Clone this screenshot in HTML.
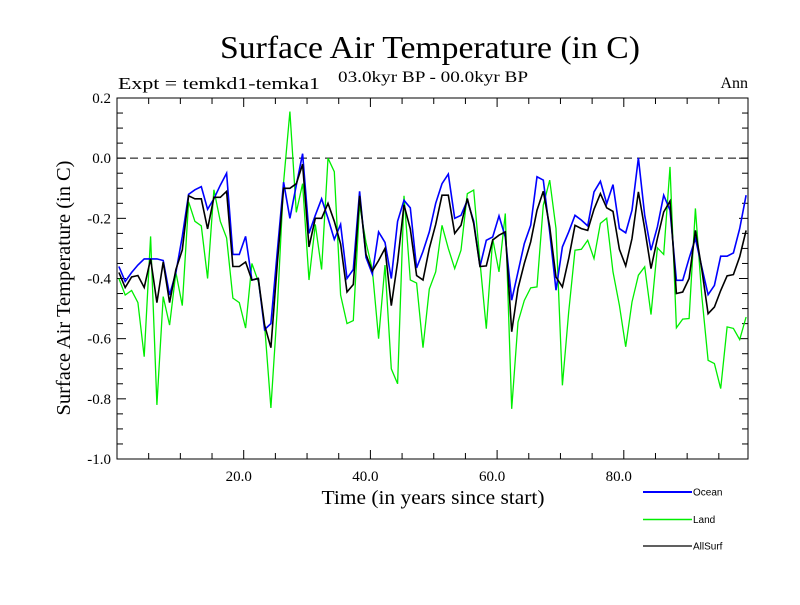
<!DOCTYPE html>
<html><head><meta charset="utf-8"><style>
body{margin:0;background:#fff}
svg text{font-family:"Liberation Serif",serif}
</style></head><body>
<svg id="chart" width="800" height="600" xmlns="http://www.w3.org/2000/svg">
<rect width="800" height="600" fill="#fff"/>
<text x="430" y="58" font-size="32" text-anchor="middle" textLength="420" lengthAdjust="spacingAndGlyphs">Surface Air Temperature (in C)</text>
<text x="118" y="89" font-size="17" textLength="202" lengthAdjust="spacingAndGlyphs">Expt = temkd1-temka1</text>
<text x="433" y="82" font-size="16" text-anchor="middle" textLength="190" lengthAdjust="spacingAndGlyphs">03.0kyr BP - 00.0kyr BP</text>
<text x="748" y="88" font-size="16" text-anchor="end">Ann</text>
<text x="0" y="0" font-size="20" text-anchor="middle" transform="translate(70,288) rotate(-90)" textLength="255" lengthAdjust="spacingAndGlyphs">Surface Air Temperature (in C)</text>
<text x="433" y="504" font-size="20" text-anchor="middle" textLength="223" lengthAdjust="spacingAndGlyphs">Time (in years since start)</text>
<g id="axes"></g>
<g id="series"></g>
<g id="legend"></g>
</svg>
<script>
const years = Array.from({length:100},(_,k)=>k+0.3);
const ocean = [-0.36,-0.41,-0.38,-0.355,-0.335,-0.335,-0.335,-0.34,-0.455,-0.38,-0.26,-0.12,-0.105,-0.095,-0.17,-0.135,-0.09,-0.05,-0.32,-0.32,-0.26,-0.405,-0.40,-0.57,-0.55,
-0.31,-0.08,-0.20,-0.09,0.015,-0.25,-0.19,-0.135,-0.20,-0.27,-0.22,-0.40,-0.37,-0.11,-0.33,-0.385,-0.245,-0.28,-0.40,-0.21,-0.14,-0.165,-0.365,-0.31,-0.245,
-0.15,-0.085,-0.053,-0.20,-0.19,-0.14,-0.21,-0.36,-0.273,-0.262,-0.192,-0.262,-0.472,-0.378,-0.284,-0.223,-0.062,-0.073,-0.245,-0.439,-0.295,-0.245,-0.19,-0.206,-0.225,
-0.112,-0.077,-0.151,-0.088,-0.234,-0.248,-0.173,0.001,-0.19,-0.306,-0.228,-0.123,-0.173,-0.406,-0.406,-0.333,-0.267,-0.361,-0.454,-0.423,-0.326,-0.326,-0.315,-0.234,-0.123];
const land = [-0.40,-0.455,-0.44,-0.48,-0.66,-0.26,-0.82,-0.46,-0.555,-0.38,-0.49,-0.145,-0.21,-0.225,-0.40,-0.105,-0.21,-0.265,-0.465,-0.48,-0.565,-0.35,-0.41,-0.555,-0.83,
-0.5,-0.08,0.155,-0.18,-0.085,-0.405,-0.22,-0.37,0.0,-0.045,-0.455,-0.55,-0.54,-0.155,-0.28,-0.37,-0.60,-0.355,-0.70,-0.75,-0.125,-0.405,-0.415,-0.63,-0.435,
-0.378,-0.223,-0.3,-0.367,-0.306,-0.118,-0.106,-0.345,-0.567,-0.268,-0.378,-0.184,-0.833,-0.545,-0.473,-0.431,-0.428,-0.156,-0.073,-0.234,-0.755,-0.511,-0.306,-0.303,-0.273,
-0.334,-0.217,-0.2,-0.378,-0.489,-0.627,-0.478,-0.389,-0.361,-0.52,-0.298,-0.32,-0.029,-0.564,-0.535,-0.533,-0.167,-0.455,-0.672,-0.683,-0.766,-0.561,-0.566,-0.603,-0.528];
const allsurf = [-0.38,-0.43,-0.395,-0.39,-0.43,-0.335,-0.48,-0.345,-0.48,-0.37,-0.305,-0.125,-0.135,-0.135,-0.235,-0.13,-0.13,-0.11,-0.36,-0.36,-0.345,-0.405,-0.40,-0.555,-0.63,
-0.35,-0.10,-0.10,-0.085,-0.02,-0.295,-0.20,-0.20,-0.15,-0.21,-0.285,-0.445,-0.42,-0.125,-0.32,-0.375,-0.34,-0.30,-0.49,-0.345,-0.155,-0.235,-0.39,-0.405,-0.30,
-0.22,-0.123,-0.123,-0.25,-0.223,-0.134,-0.217,-0.36,-0.358,-0.272,-0.256,-0.245,-0.577,-0.433,-0.35,-0.278,-0.173,-0.11,-0.228,-0.395,-0.428,-0.334,-0.223,-0.234,-0.24,
-0.17,-0.118,-0.165,-0.177,-0.303,-0.358,-0.267,-0.112,-0.234,-0.367,-0.267,-0.179,-0.143,-0.45,-0.445,-0.4,-0.24,-0.367,-0.517,-0.495,-0.44,-0.391,-0.387,-0.328,-0.24];
const yTicks = [0.2,0.0,-0.2,-0.4,-0.6,-0.8,-1.0];
const yTickLabels = ["0.2","0.0","-0.2","-0.4","-0.6","-0.8","-1.0"];
const xTicks = [20,40,60,80];
const xTickLabels = ["20.0","40.0","60.0","80.0"];

const L=117,R=748,T=98,B=459;
const X0=0,X1=(R-L)/6.335;
const xs=v=>L+(v-X0)/(X1-X0)*(R-L);
const ys=v=>T+(0.2-v)/1.2*(B-T);
const NS="http://www.w3.org/2000/svg";
function mk(tag,attrs,parent){const e=document.createElementNS(NS,tag);for(const k in attrs)e.setAttribute(k,attrs[k]);parent.appendChild(e);return e;}
const axes=document.getElementById('axes');
const frame=mk('rect',{x:L,y:T,width:R-L,height:B-T,fill:'none',stroke:'#000','stroke-width':1},axes);


const zero=mk('line',{x1:L,x2:R,y1:ys(0),y2:ys(0),stroke:'#000','stroke-dasharray':'8,5','stroke-width':1},axes);


for(let v=-1.0;v<=0.2001;v+=0.05){
  const y=ys(v);const major=Math.abs(Math.round(v*100)%20)<1;
  const len=major?9:6;
  mk('line',{x1:L,x2:L+len,y1:y,y2:y,stroke:'#000'},axes);
  mk('line',{x1:R,x2:R-len,y1:y,y2:y,stroke:'#000'},axes);
}
yTicks.forEach((v,i)=>{
  const t=mk('text',{x:L-6,y:ys(v)+5,'font-size':15,'text-anchor':'end'},axes);
  t.textContent=yTickLabels[i];
  
  
});
for(let v=5;v<X1;v+=5){
  const x=xs(v);const major=v%20===0;const len=major?9:6;
  mk('line',{x1:x,x2:x,y1:B,y2:B-len,stroke:'#000'},axes);
  mk('line',{x1:x,x2:x,y1:T,y2:T+len,stroke:'#000'},axes);
}
xTicks.forEach((v,i)=>{
  const t=mk('text',{x:xs(v)-5,y:B+22,'font-size':15,'text-anchor':'middle'},axes);
  t.textContent=xTickLabels[i];
  
  
});
const series=document.getElementById('series');
function line(data,color,name,w){
  const p=mk('polyline',{points:data.map((v,i)=>xs(years[i]).toFixed(1)+','+ys(v).toFixed(1)).join(' '),fill:'none',stroke:color,'stroke-width':w,'stroke-linejoin':'miter'},series);
  
  
}
line(land,'#00ee00','land-line',1.3);
line(ocean,'#0000ff','ocean-line',1.6);
line(allsurf,'#000','allsurf-line',1.6);
const lg=document.getElementById('legend');
[['Ocean','#0000ff',492,2],['Land','#00ee00',519.5,1.5],['AllSurf','#000',546,1.3]].forEach(([n,c,y,w])=>{
  const l=mk('line',{x1:643,x2:692,y1:y,y2:y,stroke:c,'stroke-width':w},lg);
  
  
  const t=mk('text',{x:693,y:y+3.5,'font-size':10,style:'font-family:"Liberation Sans",sans-serif'},lg);
  t.textContent=n;
  
  
});
</script>
</body></html>
